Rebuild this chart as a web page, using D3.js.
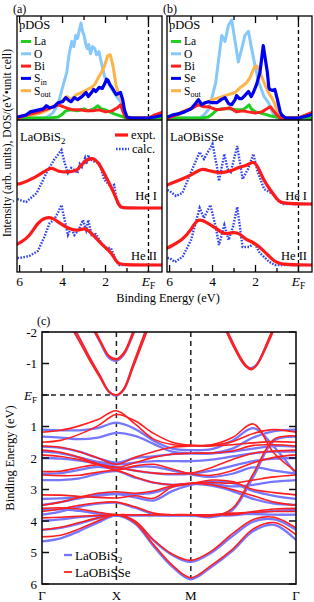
<!DOCTYPE html>
<html>
<head>
<meta charset="utf-8">
<script src="https://cdn.jsdelivr.net/npm/d3@7"></script>
<style>
  body { margin: 0; background: #fff; }
  svg { display: block; font-family: "Liberation Serif", "DejaVu Serif", serif; }
</style>
</head>
<body>
<svg id="fig" width="314" height="602"></svg>
<script>
// ---------- data: panels (a) and (b) ----------
// binding energy (eV) vs. value
const energyTicks = [6, 5, 4, 3, 2, 1, 0];
const energyLabels = [6, 4, 2];

// pDOS, LaOBiS2
const dosLaA = [[6.1,0],[4.6,0],[4.2,1],[4.0,4],[3.85,7],[3.6,8],[3.3,7],[3.0,9],[2.8,7],[2.55,9],[2.35,12],[2.2,9],[2.0,8],[1.8,6],[1.6,4],[1.3,2],[1.05,0],[-0.7,0]];
const dosOA = [[6.1,0],[4.9,0],[4.7,1],[4.45,5],[4.3,10],[4.15,18],[4.0,30],[3.8,45],[3.7,62],[3.57,75],[3.48,70],[3.38,81],[3.3,78],[3.2,88],[3.14,93],[3.07,85],[3.0,81],[2.9,71],[2.85,68],[2.78,72],[2.7,63],[2.6,70],[2.5,68],[2.42,62],[2.3,65],[2.2,55],[2.05,41],[1.9,35],[1.75,30],[1.6,25],[1.45,20],[1.3,16],[1.2,12],[1.1,5],[0.95,0],[-0.7,0]];
const dosBiA = [[6.1,0],[5.8,2],[5.5,4],[5.1,6],[4.7,9],[4.45,11],[4.2,13],[3.95,11],[3.7,9],[3.5,8],[3.2,8],[2.9,7],[2.6,7],[2.3,8],[2.0,6],[1.7,7],[1.45,10],[1.3,13],[1.2,7],[1.1,2],[1.0,0],[0.0,0],[-0.3,3],[-0.7,6]];
const dosSinA = [[6.1,1],[5.9,2],[5.7,3],[5.5,6],[5.3,7],[5.1,8],[4.9,9],[4.75,12],[4.6,10],[4.4,11],[4.2,15],[4.0,16],[3.85,20],[3.7,17],[3.6,16],[3.45,20],[3.3,18],[3.1,21],[2.9,25],[2.8,21],[2.65,25],[2.55,28],[2.45,26],[2.3,30],[2.15,29],[2.05,33],[1.95,38],[1.88,37],[1.8,33],[1.65,28],[1.5,23],[1.4,24],[1.3,25],[1.2,18],[1.12,8],[1.0,1],[0.8,0],[0.0,0],[-0.3,1],[-0.7,3]];
const dosSoutA = [[6.1,0],[5.8,1],[5.4,3],[5.0,5],[4.7,8],[4.4,11],[4.15,15],[3.95,18],[3.8,21],[3.6,18],[3.35,23],[3.1,25],[2.85,28],[2.65,30],[2.5,33],[2.3,41],[2.15,46],[2.05,51],[1.9,61],[1.78,62],[1.65,51],[1.5,31],[1.4,25],[1.3,21],[1.2,14],[1.12,5],[1.0,0],[-0.7,0]];

// pDOS, LaOBiSSe
const dosLaB = [[6.1,0],[4.5,0],[4.2,1],[4.0,4],[3.8,8],[3.5,9],[3.2,9],[2.9,8],[2.6,8],[2.45,10],[2.3,13],[2.2,9],[2.0,6],[1.8,5],[1.6,4],[1.3,2],[1.0,1],[0.8,0],[-0.7,0]];
const dosOB = [[6.1,0],[4.6,0],[4.4,3],[4.2,8],[4.05,18],[3.85,35],[3.7,60],[3.57,81],[3.42,75],[3.26,91],[3.11,96],[2.95,75],[2.8,55],[2.64,68],[2.49,81],[2.33,85],[2.18,68],[2.02,51],[1.85,35],[1.6,21],[1.4,15],[1.25,8],[1.15,3],[1.0,0],[-0.7,0]];
const dosBiB = [[6.1,0],[5.8,2],[5.4,6],[5.0,9],[4.66,13],[4.4,11],[4.19,11],[3.8,8],[3.42,9],[3.2,10],[2.88,6],[2.6,7],[2.33,6],[2.0,5],[1.7,6],[1.4,10],[1.3,11],[1.2,8],[1.0,3],[0.85,0],[0.0,0],[-0.35,3],[-0.7,6]];
const dosSeB = [[6.1,1],[5.85,3],[5.6,4],[5.3,6],[5.0,9],[4.8,14],[4.66,18],[4.5,13],[4.35,15],[4.19,16],[4.0,15],[3.8,15],[3.6,18],[3.42,20],[3.25,14],[3.11,13],[2.95,18],[2.88,22],[2.75,19],[2.64,19],[2.5,22],[2.33,26],[2.2,21],[2.1,25],[1.95,33],[1.79,45],[1.64,71],[1.56,60],[1.45,45],[1.38,30],[1.33,28],[1.2,27],[1.1,28],[0.98,18],[0.85,6],[0.78,3],[0.6,0],[0.0,0],[-0.4,2],[-0.7,4]];
const dosSoutB = [[6.1,0],[5.8,1],[5.5,4],[5.2,8],[4.9,10],[4.7,14],[4.5,12],[4.3,15],[4.0,18],[3.7,20],[3.4,22],[3.1,24],[2.95,25],[2.7,30],[2.5,33],[2.4,35],[2.25,40],[2.15,45],[2.05,50],[1.95,51],[1.85,48],[1.7,40],[1.55,32],[1.4,25],[1.25,20],[1.1,14],[1.0,8],[0.9,3],[0.8,0],[-0.7,0]];

// photoemission spectra (arb. units above each baseline)
const heIExptA = [[6.1,24],[6.0,24],[5.4,29],[4.75,38],[4.5,41],[4.2,36],[3.7,36],[3.3,37],[3.0,47],[2.6,51],[2.3,45],[1.95,30],[1.6,15],[1.35,1],[1.2,0],[-0.7,0]];
const heICalcA = [[6.1,9],[6.0,8],[5.7,6],[5.2,15],[4.75,35],[4.4,48],[4.05,58],[3.9,45],[3.75,35],[3.6,40],[3.45,38],[3.3,35],[3.2,44],[3.1,41],[2.95,50],[2.88,44],[2.8,53],[2.72,47],[2.65,48],[2.5,46],[2.3,45],[2.05,28],[1.9,25],[1.75,21],[1.6,23],[1.45,5],[1.3,1],[1.2,0],[-0.7,0]];
const heIIExptA = [[6.1,21],[6.0,22],[5.55,28],[5.15,43],[4.75,48],[4.45,47],[4.15,42],[3.7,36],[3.3,34],[3.0,37],[2.8,35],[2.45,27],[2.05,18],[1.75,13],[1.45,2],[1.3,0],[-0.7,0]];
const heIICalcA = [[6.1,7],[6.0,7],[5.55,9],[5.15,14],[4.85,28],[4.6,42],[4.4,45],[4.2,53],[4.05,60],[3.9,45],[3.75,30],[3.6,37],[3.45,30],[3.25,35],[3.05,45],[2.9,35],[2.8,45],[2.65,30],[2.45,31],[2.2,22],[1.95,17],[1.75,17],[1.5,4],[1.35,0],[-0.7,0]];

const heIExptB = [[6.1,19],[6.0,20],[5.4,25],[4.9,30],[4.5,36],[4.15,33],[3.7,31],[3.25,32],[2.75,37],[2.35,39],[2.1,43],[1.9,38],[1.65,25],[1.35,15],[1.0,5],[0.8,0],[-0.7,0]];
const heICalcB = [[6.1,14],[6.0,13],[5.7,8],[5.4,11],[5.0,32],[4.6,52],[4.4,45],[4.0,60],[3.8,38],[3.7,23],[3.45,50],[3.3,35],[3.15,32],[2.85,58],[2.6,25],[2.35,35],[2.1,50],[1.9,32],[1.6,15],[1.2,10],[0.9,2],[0.7,0],[-0.7,0]];
const heIIExptB = [[6.1,17],[6.0,18],[5.4,25],[5.0,35],[4.7,47],[4.3,43],[3.85,37],[3.45,30],[3.05,33],[2.75,32],[2.45,25],[2.1,23],[1.65,15],[1.2,5],[0.9,0],[-0.7,0]];
const heIICalcB = [[6.1,7],[6.0,7],[5.75,3],[5.4,8],[5.0,25],[4.6,57],[4.4,47],[4.1,60],[3.85,38],[3.7,20],[3.45,40],[3.25,25],[3.05,38],[2.85,58],[2.6,18],[2.3,18],[2.05,22],[1.8,12],[1.35,3],[1.1,0],[-0.7,0]];

// baselines of He I / He II curves
const heOffsetsA = [62, 5];
const heOffsetsB = [66, 5];

// ---------- data: panel (c) band structure ----------
const kPoints = [0, 0.125, 0.25, 0.375, 0.5, 0.625, 0.75, 0.875, 1.0, 1.14, 1.28, 1.42, 1.56, 1.707];
const kLabels = [["\u0393", 0], ["X", 0.5], ["M", 1.0], ["\u0393", 1.707]];
const bandTicks = [-2, -1, 0, 1, 2, 3, 4, 5, 6];

// LaOBiSSe valence bands
const bandsSSe = [
  [1.18,1.12,0.98,0.78,0.50,0.92,1.40,1.57,1.60,1.58,1.35,0.92,1.85,2.43],
  [1.50,1.44,1.25,0.98,0.62,0.82,1.22,1.50,1.60,1.60,1.48,1.22,1.10,1.18],
  [1.62,1.66,1.80,2.00,2.20,1.98,1.80,1.66,1.62,1.62,1.58,1.52,1.48,1.50],
  [1.75,1.82,1.98,2.18,2.30,2.15,1.98,1.88,1.85,1.84,1.78,1.60,1.58,1.62],
  [1.90,1.95,2.05,2.20,2.30,2.40,2.48,2.50,2.48,2.30,2.05,1.85,1.78,1.75],
  [2.43,2.42,2.30,2.22,2.38,2.25,2.20,2.35,2.50,2.55,2.40,2.15,1.98,1.90],
  [2.54,2.56,2.55,2.45,2.40,2.60,2.78,2.85,2.80,2.78,2.80,2.70,2.60,2.54],
  [3.50,3.40,3.25,3.12,3.07,3.12,3.05,2.88,2.80,2.85,3.00,3.20,3.40,3.50],
  [3.17,3.18,3.22,3.25,3.27,3.20,3.28,2.92,2.82,2.70,2.75,3.00,3.10,3.17],
  [3.70,3.62,3.50,3.42,3.40,3.55,3.75,3.80,3.80,3.80,3.75,3.72,3.70,3.70],
  [3.90,3.88,3.85,3.82,3.80,3.80,3.80,3.80,3.80,3.85,3.60,2.50,1.40,1.30],
  [3.60,3.58,3.62,3.72,3.80,3.80,3.80,3.80,3.80,3.80,3.80,3.70,3.62,3.60],
  [4.50,4.45,4.25,4.00,3.80,4.00,4.60,5.05,5.25,4.95,4.40,3.95,3.88,4.22],
  [4.28,4.20,4.05,3.90,3.80,4.05,4.75,5.40,5.80,5.40,4.90,4.25,4.05,4.44]
];
// LaOBiS2 valence bands
const bandsS2 = [
  [1.10,1.12,1.12,1.05,0.88,1.08,1.45,1.70,1.75,1.72,1.45,1.05,1.65,2.50],
  [1.32,1.35,1.40,1.35,1.20,1.30,1.55,1.80,1.85,1.85,1.70,1.35,1.15,1.10],
  [1.64,1.68,1.80,2.00,2.15,2.00,1.95,1.88,1.85,1.85,1.80,1.70,1.62,1.64],
  [1.80,1.85,1.98,2.12,2.20,2.15,2.10,2.10,2.10,2.05,1.95,1.85,1.80,1.80],
  [2.00,2.02,2.08,2.18,2.28,2.40,2.48,2.52,2.50,2.40,2.25,2.10,2.02,2.00],
  [2.50,2.48,2.38,2.28,2.35,2.28,2.28,2.40,2.52,2.60,2.50,2.30,2.40,2.50],
  [2.70,2.70,2.65,2.50,2.42,2.62,2.78,2.85,2.82,2.82,2.90,2.85,2.75,2.70],
  [3.49,3.40,3.28,3.15,3.12,3.15,3.10,2.92,2.82,2.88,3.05,3.30,3.45,3.49],
  [3.30,3.28,3.25,3.20,3.15,3.25,3.35,3.05,2.85,2.75,2.80,3.05,3.20,3.30],
  [3.80,3.70,3.55,3.45,3.42,3.58,3.78,3.82,3.82,3.82,3.78,3.78,3.80,3.80],
  [4.00,3.95,3.88,3.84,3.82,3.82,3.82,3.82,3.82,3.88,3.65,2.60,1.45,1.32],
  [3.65,3.63,3.68,3.76,3.82,3.82,3.82,3.82,3.82,3.82,3.82,3.75,3.68,3.65],
  [4.65,4.55,4.32,4.05,3.82,4.02,4.62,5.08,5.30,5.00,4.48,4.02,3.95,4.28],
  [4.28,4.22,4.08,3.92,3.82,4.08,4.80,5.45,5.85,5.45,4.95,4.32,4.12,4.60]
];

// conduction bands near X and along M-Gamma
const kNearX = [0.19, 0.26, 0.32, 0.39, 0.45, 0.5, 0.55, 0.61, 0.68, 0.74];
const cbXSSe = [
  [-2.35,-1.75,-1.20,-0.62,-0.12,0.00,-0.20,-0.95,-1.85,-2.60],
  [-2.20,-1.62,-1.10,-0.55,-0.10,0.00,-0.17,-0.85,-1.70,-2.45],
  [-3.50,-2.90,-2.40,-1.75,-1.25,-1.15,-1.35,-2.00,-2.90,-3.60],
  [-3.40,-2.80,-2.30,-1.70,-1.22,-1.12,-1.30,-1.90,-2.80,-3.50]
];
const cbXS2 = [
  [-2.28,-1.68,-1.15,-0.58,-0.10,0.02,-0.18,-0.90,-1.78,-2.52],
  [-3.40,-2.80,-2.30,-1.68,-1.18,-1.08,-1.28,-1.90,-2.80,-3.50]
];
const kNearMG = [1.23, 1.29, 1.34, 1.37, 1.405, 1.44, 1.47, 1.52, 1.57];
const cbMGSSe = [
  [-2.20,-1.60,-1.15,-0.95,-0.83,-0.95,-1.20,-1.75,-2.30],
  [-2.10,-1.50,-1.08,-0.90,-0.80,-0.92,-1.15,-1.65,-2.20]
];
const cbMGS2 = [
  [-2.15,-1.55,-1.10,-0.92,-0.85,-0.95,-1.18,-1.70,-2.25]
];

// ---------- drawing ----------
const svg = d3.select("#fig");
const defs = svg.append("defs");

const colLa = "#1ecf1e", colO = "#86c8fa", colBi = "#ff2020", colS = "#0000f0", colSout = "#ffb347";
const colExpt = "#ff1a1a", colCalc = "#3344ee";
const colRed = "#ff1f1f", colBlue = "#7676ff";

// text with optional subscripts / italics: segs = [[text, kind]], kind "" | "sub" | "it"
function richText(g, x, y, segs, size, anchor) {
  const t = g.append("text")
    .attr("x", x).attr("y", y)
    .attr("font-size", size)
    .attr("text-anchor", anchor || "start");
  let down = false;
  segs.forEach(([s, kind]) => {
    const sp = t.append("tspan").text(s);
    if (kind === "sub") {
      sp.attr("font-size", size * 0.7);
      if (!down) { sp.attr("dy", size * 0.25); down = true; }
    } else {
      if (down) { sp.attr("dy", -size * 0.25); down = false; }
      if (kind === "it") sp.attr("font-style", "italic");
    }
  });
  return t;
}

const top0 = 16, mid0 = 120, bot0 = 272;
const eDomain = [6.12, -0.63];

function drawDos(p) {
  const g = svg.append("g");
  const x = d3.scaleLinear().domain(eDomain).range([p.left, p.right]);
  const yDos = d3.scaleLinear().domain([0, 100]).range([118, top0]);
  const yInt = d3.scaleLinear().domain([0, 150]).range([270, mid0]);

  defs.append("clipPath").attr("id", "cu" + p.id)
    .append("rect").attr("x", p.left).attr("y", top0).attr("width", p.right - p.left).attr("height", mid0 - top0);
  defs.append("clipPath").attr("id", "cl" + p.id)
    .append("rect").attr("x", p.left).attr("y", mid0).attr("width", p.right - p.left).attr("height", bot0 - mid0);

  // E_F dashed lines
  g.append("line").attr("x1", x(0)).attr("x2", x(0)).attr("y1", top0).attr("y2", mid0)
    .attr("stroke", "#000").attr("stroke-width", 1.3).attr("stroke-dasharray", "4,3");
  g.append("line").attr("x1", x(0)).attr("x2", x(0)).attr("y1", p.dashStart).attr("y2", bot0)
    .attr("stroke", "#000").attr("stroke-width", 1.3).attr("stroke-dasharray", "4,3");

  // pDOS curves
  const dosLine = d3.line().x(d => x(d[0])).y(d => yDos(d[1]));
  const gu = g.append("g").attr("clip-path", `url(#cu${p.id})`);
  p.dos.forEach(c => {
    gu.append("path").attr("d", dosLine(c.data)).attr("fill", "none")
      .attr("stroke", c.color).attr("stroke-width", c.width).attr("stroke-linejoin", "round");
  });

  // spectra
  const gl = g.append("g").attr("clip-path", `url(#cl${p.id})`);
  p.spectra.forEach((pair, i) => {
    const off = p.offsets[i];
    const calcLine = d3.line().x(d => x(d[0])).y(d => yInt(d[1] + off));
    const exptLine = d3.line().x(d => x(d[0])).y(d => yInt(d[1] + off)).curve(d3.curveBasis);
    gl.append("path").attr("d", calcLine(pair[1])).attr("fill", "none")
      .attr("stroke", colCalc).attr("stroke-width", 2.4).attr("stroke-dasharray", "1.6,1.4");
    gl.append("path").attr("d", exptLine(pair[0])).attr("fill", "none")
      .attr("stroke", colExpt).attr("stroke-width", 3.2).attr("stroke-linecap", "round");
  });

  // frame
  g.append("rect").attr("x", p.left).attr("y", top0).attr("width", p.right - p.left).attr("height", bot0 - top0)
    .attr("fill", "none").attr("stroke", "#000").attr("stroke-width", 1.3);
  g.append("line").attr("x1", p.left).attr("x2", p.right).attr("y1", mid0).attr("y2", mid0)
    .attr("stroke", "#000").attr("stroke-width", 1.3);

  // ticks (inward) top and bottom
  energyTicks.forEach(e => {
    const len = e % 2 === 0 ? 7 : 4;
    g.append("line").attr("x1", x(e)).attr("x2", x(e)).attr("y1", bot0).attr("y2", bot0 - len)
      .attr("stroke", "#000").attr("stroke-width", 1.3);
    g.append("line").attr("x1", x(e)).attr("x2", x(e)).attr("y1", top0).attr("y2", top0 + len)
      .attr("stroke", "#000").attr("stroke-width", 1.3);
  });
  energyLabels.forEach(e => {
    g.append("text").attr("x", x(e)).attr("y", 286).attr("text-anchor", "middle")
      .attr("font-size", 13.5).text(e);
  });
  richText(g, x(0), 286, [["E", "it"], ["F", "sub"]], 13.5, "middle");

  // panel letter
  g.append("text").attr("x", p.left - 4).attr("y", 13).attr("font-size", 12).text(p.letter);

  // pDOS legend
  g.append("text").attr("x", p.left + 2).attr("y", 29).attr("font-size", 12.5).text("pDOS");
  p.dos.slice().sort((a, b) => a.order - b.order).forEach((c, i) => {
    const ly = 41.5 + i * 12.3;
    g.append("line").attr("x1", p.left + 4).attr("x2", p.left + 14).attr("y1", ly).attr("y2", ly)
      .attr("stroke", c.color).attr("stroke-width", 3);
    richText(g, p.left + 17, ly + 3.8, c.label, 11.5, "start");
  });

  // sample label
  richText(g, p.left + 3, 141, p.sample, 12.5, "start");

  // He labels
  richText(g, p.right - 5, 200, [["He I", ""]], 12.5, "end");
  richText(g, p.right - 5, 260, [["He II", ""]], 12.5, "end");

  return g;
}

drawDos({
  id: "A", left: 17, right: 162, letter: "(a)", dashStart: 158,
  offsets: heOffsetsA,
  sample: [["LaOBiS", ""], ["2", "sub"]],
  dos: [
    { data: dosOA, color: colO, width: 3, order: 1, label: [["O", ""]] },
    { data: dosSoutA, color: colSout, width: 3, order: 4, label: [["S", ""], ["out", "sub"]] },
    { data: dosLaA, color: colLa, width: 3, order: 0, label: [["La", ""]] },
    { data: dosBiA, color: colBi, width: 3, order: 2, label: [["Bi", ""]] },
    { data: dosSinA, color: colS, width: 3.2, order: 3, label: [["S", ""], ["in", "sub"]] }
  ],
  spectra: [[heIExptA, heICalcA], [heIIExptA, heIICalcA]]
});

drawDos({
  id: "B", left: 167, right: 312, letter: "(b)", dashStart: mid0,
  offsets: heOffsetsB,
  sample: [["LaOBiSSe", ""]],
  dos: [
    { data: dosOB, color: colO, width: 3, order: 1, label: [["O", ""]] },
    { data: dosSoutB, color: colSout, width: 3, order: 4, label: [["S", ""], ["out", "sub"]] },
    { data: dosLaB, color: colLa, width: 3, order: 0, label: [["La", ""]] },
    { data: dosBiB, color: colBi, width: 3, order: 2, label: [["Bi", ""]] },
    { data: dosSeB, color: colS, width: 3.2, order: 3, label: [["Se", ""]] }
  ],
  spectra: [[heIExptB, heICalcB], [heIIExptB, heIICalcB]]
});

// expt / calc legend in (a)
const lg = svg.append("g");
lg.append("rect").attr("x", 112).attr("y", 127).attr("width", 48).attr("height", 29).attr("fill", "#fff");
lg.append("line").attr("x1", 115).attr("x2", 128).attr("y1", 135).attr("y2", 135)
  .attr("stroke", colExpt).attr("stroke-width", 3.2);
lg.append("line").attr("x1", 116).attr("x2", 129).attr("y1", 149).attr("y2", 149)
  .attr("stroke", colCalc).attr("stroke-width", 2.4).attr("stroke-dasharray", "1.6,1.4");
lg.append("text").attr("x", 131).attr("y", 139).attr("font-size", 12.5).text("expt.");
lg.append("text").attr("x", 132).attr("y", 153).attr("font-size", 12.5).text("calc.");

// shared axis titles
svg.append("text").attr("transform", "translate(11,143) rotate(-90)").attr("text-anchor", "middle")
  .attr("font-size", 11.5).text("Intensity (arb. units),  DOS/(eV\u2022unit cell)");
svg.append("text").attr("x", 168).attr("y", 302).attr("text-anchor", "middle")
  .attr("font-size", 12.3).text("Binding Energy (eV)");

// ---------- panel (c) ----------
const cL = 42, cR = 296, cT = 332, cB = 584;
const kx = d3.scaleLinear().domain([0, 1.707]).range([cL, cR]);
const ey = d3.scaleLinear().domain([-2, 6]).range([cT, cB]);
const gc = svg.append("g");

defs.append("clipPath").attr("id", "cc")
  .append("rect").attr("x", cL).attr("y", cT).attr("width", cR - cL).attr("height", cB - cT);

// dashed guides
kLabels.slice(1, 3).forEach(([, k]) => {
  gc.append("line").attr("x1", kx(k)).attr("x2", kx(k)).attr("y1", cT).attr("y2", cB)
    .attr("stroke", "#222").attr("stroke-width", 1.5).attr("stroke-dasharray", "5,4");
});
gc.append("line").attr("x1", cL).attr("x2", cR).attr("y1", ey(0)).attr("y2", ey(0))
  .attr("stroke", "#222").attr("stroke-width", 1.5).attr("stroke-dasharray", "5,4");

const gb = gc.append("g").attr("clip-path", "url(#cc)");
function bandLine(ks) {
  return d3.line().x((d, i) => kx(ks[i])).y(d => ey(d)).curve(d3.curveCatmullRom.alpha(0.5));
}
function drawBands(sets, color, width) {
  sets.forEach(([ks, bands]) => {
    const ln = bandLine(ks);
    bands.forEach(b => {
      gb.append("path").attr("d", ln(b)).attr("fill", "none")
        .attr("stroke", color).attr("stroke-width", width).attr("stroke-linejoin", "round");
    });
  });
}
drawBands([[kPoints, bandsS2], [kNearX, cbXS2], [kNearMG, cbMGS2]], colBlue, 2.3);
drawBands([[kPoints, bandsSSe], [kNearX, cbXSSe], [kNearMG, cbMGSSe]], colRed, 1.6);

// frame and ticks
gc.append("rect").attr("x", cL).attr("y", cT).attr("width", cR - cL).attr("height", cB - cT)
  .attr("fill", "none").attr("stroke", "#111").attr("stroke-width", 1.6);
bandTicks.forEach(e => {
  gc.append("line").attr("x1", cL).attr("x2", cL + 7).attr("y1", ey(e)).attr("y2", ey(e))
    .attr("stroke", "#111").attr("stroke-width", 1.5);
  gc.append("line").attr("x1", cR).attr("x2", cR - 7).attr("y1", ey(e)).attr("y2", ey(e))
    .attr("stroke", "#111").attr("stroke-width", 1.5);
  if (e === 0) {
    richText(gc, 37, ey(e) + 4.5, [["E", "it"], ["F", "sub"]], 13, "end");
  } else {
    gc.append("text").attr("x", 37).attr("y", ey(e) + 4.5).attr("text-anchor", "end")
      .attr("font-size", 13).text(e);
  }
});
kLabels.forEach(([lab, k]) => {
  gc.append("text").attr("x", kx(k)).attr("y", 600).attr("text-anchor", "middle")
    .attr("font-size", 13).text(lab);
});
gc.append("text").attr("x", 37).attr("y", 325).attr("font-size", 12).text("(c)");
gc.append("text").attr("transform", `translate(14,${(ey(0.1) + ey(3.9)) / 2}) rotate(-90)`)
  .attr("text-anchor", "middle").attr("font-size", 12.5).text("Binding Energy (eV)");

// legend (c)
gc.append("line").attr("x1", 64).attr("x2", 72).attr("y1", 555).attr("y2", 555)
  .attr("stroke", colBlue).attr("stroke-width", 2.3);
richText(gc, 75, 559.5, [["LaOBiS", ""], ["2", "sub"]], 13, "start");
gc.append("line").attr("x1", 64).attr("x2", 72).attr("y1", 572).attr("y2", 572)
  .attr("stroke", colRed).attr("stroke-width", 1.8);
richText(gc, 75, 576.5, [["LaOBiSSe", ""]], 13, "start");
</script>
</body>
</html>
